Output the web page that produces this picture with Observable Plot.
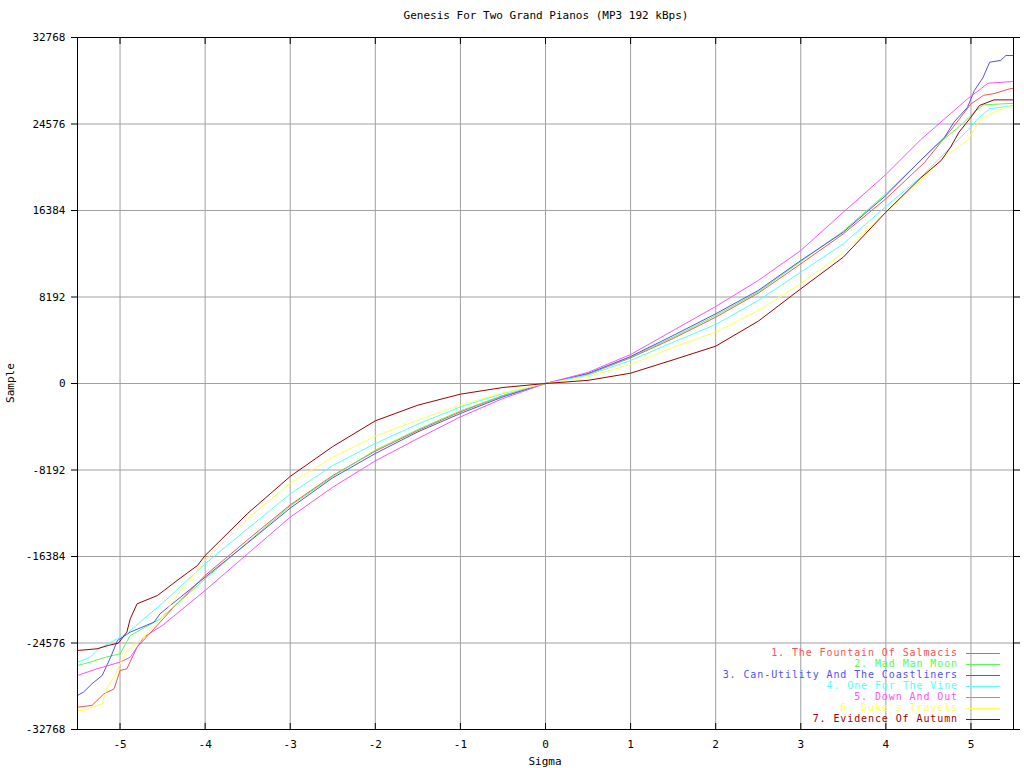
<!DOCTYPE html>
<html><head><meta charset="utf-8">
<script src="https://cdn.jsdelivr.net/npm/d3@7"></script>
<script src="https://cdn.jsdelivr.net/npm/@observablehq/plot@0.6"></script>
<style>body{margin:0;background:#fff} #chart{position:relative;width:1024px;height:768px}</style>
</head><body><div id="chart"></div>
<script>
const chartTitle = "Genesis For Two Grand Pianos (MP3 192 kBps)";
const xLabel = "Sigma";
const yLabel = "Sample";
const seriesNames = [
  "1. The Fountain Of Salmacis",
  "2. Mad Man Moon",
  "3. Can-Utility And The Coastliners",
  "4. One For The Vine",
  "5. Down And Out",
  "6. Duke's Travels",
  "7. Evidence Of Autumn"
];
const seriesColors = ["#ff5050", "#50ff50", "#5050ff", "#50ffff", "#ff50ff", "#ffff50", "#a00000"];
const xTicks = [-5, -4, -3, -2, -1, 0, 1, 2, 3, 4, 5];
const yTicks = [-32768, -24576, -16384, -8192, 0, 8192, 16384, 24576, 32768];

// [sigma, sample]
const fountainOfSalmacis = [[-5.5,-30650],[-5.33,-30490],[-5.19,-29390],[-5.07,-28915],[-5.0,-27180],[-4.92,-27020],[-4.8,-24970],[-4.6,-23230],[-4.37,-21180],[-4.0,-18180],[-3.5,-14800],[-3.0,-11500],[-2.5,-8710],[-2.0,-6410],[-1.5,-4450],[-1.0,-2680],[-0.5,-1150],[0,0],[0.5,880],[1,2430],[1.5,4261],[2,6280],[2.5,8554],[3,11332],[3.5,14170],[4,17490],[4.45,20900],[4.76,23960],[5.0,26480],[5.15,27300],[5.27,27450],[5.45,27900],[5.5,27960]];
const madManMoon = [[-5.5,-26705],[-5.35,-26390],[-5.17,-25920],[-5.0,-25600],[-4.88,-23865],[-4.53,-22300],[-4.0,-18500],[-3.5,-15030],[-3.0,-11600],[-2.5,-8800],[-2.0,-6315],[-1.5,-4356],[-1.0,-2590],[-0.5,-1136],[0,0],[0.5,900],[1,2500],[1.5,4387],[2,6440],[2.5,8680],[3,11553],[3.5,14423],[4,17960],[4.41,21118],[4.57,22380],[4.9,24590],[5.06,25850],[5.15,26390],[5.5,26540]];
const canUtility = [[-5.5,-29545],[-5.43,-29230],[-5.33,-28440],[-5.21,-27650],[-5.11,-25920],[-5.03,-24340],[-4.88,-23550],[-4.6,-22600],[-4.53,-21810],[-4.0,-18340],[-3.5,-15100],[-3.0,-11800],[-2.5,-8930],[-2.0,-6630],[-1.5,-4576],[-1.0,-2840],[-0.5,-1263],[0,0],[0.5,950],[1,2557],[1.5,4545],[2,6600],[2.5,8807],[3,11648],[3.5,14328],[4,17800],[4.41,21150],[4.69,23325],[4.8,24745],[4.96,26166],[5.04,27750],[5.14,28950],[5.22,30430],[5.35,30600],[5.41,31060],[5.5,31060]];
const oneForTheVine = [[-5.5,-26390],[-5.35,-25920],[-5.25,-25125],[-5.07,-24340],[-4.92,-23710],[-4.72,-22285],[-4.5,-20800],[-4.0,-17075],[-3.5,-13750],[-3.0,-10450],[-2.5,-7765],[-2.0,-5680],[-1.5,-3850],[-1.0,-2210],[-0.5,-950],[0,0],[0.5,800],[1,2178],[1.5,3914],[2,5587],[2.5,7860],[3,10543],[3.5,13230],[4,16760],[4.41,19535],[4.8,22700],[4.96,23960],[5.08,25070],[5.22,26010],[5.5,26330]];
const downAndOut = [[-5.5,-27650],[-5.27,-27020],[-5.0,-26390],[-4.88,-25920],[-4.72,-24020],[-4.5,-22900],[-4.0,-19600],[-3.5,-16130],[-3.0,-12660],[-2.5,-9820],[-2.0,-7325],[-1.5,-5210],[-1.0,-3160],[-0.5,-1420],[0,0],[0.5,1050],[1,2746],[1.5,5019],[2,7292],[2.5,9754],[3,12595],[3.5,16222],[4,19792],[4.41,23100],[4.57,24215],[4.96,26960],[5.08,27680],[5.2,28440],[5.5,28600]];
const dukesTravels = [[-5.5,-30970],[-5.43,-30970],[-5.21,-30330],[-5.14,-28600],[-5.06,-27650],[-5.0,-26545],[-4.92,-25285],[-4.72,-24020],[-4.52,-22285],[-4.33,-20076],[-4.0,-16760],[-3.5,-12810],[-3.0,-9450],[-2.5,-6980],[-2.0,-4990],[-1.5,-3470],[-1.0,-2050],[-0.5,-884],[0,0],[0.5,650],[1,1800],[1.5,3440],[2,4860],[2.5,6913],[3,9439],[3.5,12400],[4,16222],[4.41,19224],[4.65,21275],[4.96,23010],[5.1,24900],[5.27,25690],[5.41,26170],[5.5,26200]];
const evidenceOfAutumn = [[-5.5,-25285],[-5.27,-25125],[-5.14,-24810],[-5.02,-24590],[-4.92,-23550],[-4.88,-22285],[-4.8,-20865],[-4.56,-20076],[-4.33,-18656],[-4.09,-17235],[-4.0,-16290],[-3.5,-12300],[-3.0,-8800],[-2.5,-5970],[-2.0,-3535],[-1.5,-2050],[-1.0,-1010],[-0.5,-380],[0,0],[0.5,300],[1,976],[1.5,2241],[2,3533],[2.5,5900],[3,8966],[3.5,11964],[4,16222],[4.41,19474],[4.65,21118],[4.76,22380],[4.86,23800],[5.0,25220],[5.1,26330],[5.2,26640],[5.27,26860],[5.5,26860]];

const allSeries = [fountainOfSalmacis, madManMoon, canUtility, oneForTheVine, downAndOut, dukesTravels, evidenceOfAutumn];
const data = allSeries.flatMap((arr, i) => arr.map(([sigma, sample]) => ({sigma, sample, series: seriesNames[i]})));

const fontFamily = "'DejaVu Sans Mono', monospace";
const chart = Plot.plot({
  width: 1024, height: 768,
  marginLeft: 77, marginRight: 11, marginTop: 37, marginBottom: 39,
  style: {fontFamily, fontSize: "11px", background: "white", color: "black", overflow: "visible"},
  x: {domain: [-5.5, 5.5]},
  y: {domain: [-32768, 32768]},
  color: {domain: seriesNames, range: seriesColors},
  marks: [
    Plot.gridX(xTicks, {stroke: "#a0a0a0", strokeOpacity: 1}),
    Plot.gridY(yTicks, {stroke: "#a0a0a0", strokeOpacity: 1}),
    Plot.line(data, {x: "sigma", y: "sample", z: "series", stroke: "series", strokeWidth: 1}),
    Plot.axisX(xTicks, {anchor: "bottom", tickSize: -6, tickPadding: 17, label: null, tickFormat: d => String(d)}),
    Plot.axisX(xTicks, {anchor: "top", tickSize: -6, label: null, tickFormat: () => ""}),
    Plot.axisY(yTicks, {anchor: "left", tickSize: 6, tickPadding: 6, label: null, tickFormat: d => String(d)}),
    Plot.axisY(yTicks, {anchor: "right", tickSize: 6, label: null, tickFormat: () => ""}),
    Plot.frame({stroke: "black", strokeWidth: 1})
  ]
});
document.getElementById("chart").appendChild(chart);

const svg = d3.select(chart);
svg.append("text").attr("x", 546).attr("y", 16).attr("text-anchor", "middle").attr("dominant-baseline", "middle")
  .attr("font-family", fontFamily).attr("font-size", 11).attr("fill", "black").text(chartTitle);
svg.append("text").attr("x", 545).attr("y", 762).attr("text-anchor", "middle").attr("dominant-baseline", "middle")
  .attr("font-family", fontFamily).attr("font-size", 11).attr("fill", "black").text(xLabel);
svg.append("text").attr("transform", "translate(11,383) rotate(-90)").attr("text-anchor", "middle").attr("dominant-baseline", "middle")
  .attr("font-family", fontFamily).attr("font-size", 11).attr("fill", "black").text(yLabel);

const legend = svg.append("g");
seriesNames.forEach((name, i) => {
  const y = 653 + 11 * i;
  legend.append("text").attr("x", 958).attr("y", y).attr("text-anchor", "end").attr("dominant-baseline", "middle")
    .attr("font-family", fontFamily).attr("font-size", 10).attr("letter-spacing", "0.9px")
    .attr("fill", seriesColors[i]).text(name);
  legend.append("rect").attr("x", 966).attr("y", y).attr("width", 34).attr("height", 1)
    .attr("fill", seriesColors[i]).attr("stroke", "none");
});
</script>
</body></html>
